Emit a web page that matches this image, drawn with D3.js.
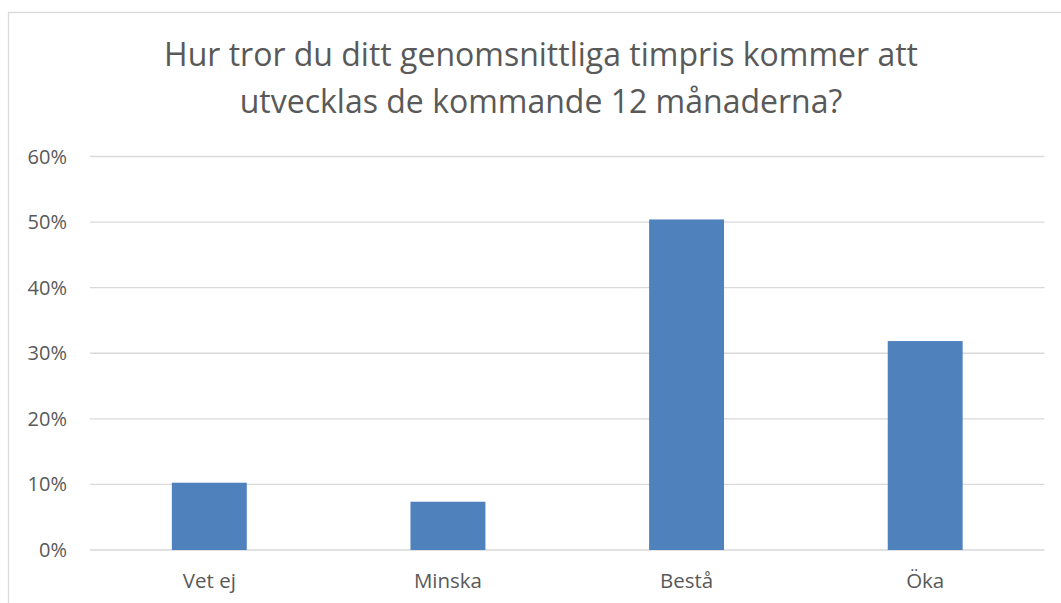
<!DOCTYPE html>
<html>
<head>
<meta charset="utf-8">
<script src="https://cdn.jsdelivr.net/npm/d3@7"></script>
<style>
  body { margin: 0; background: #fff; }
  svg text { font-family: "Open Sans", sans-serif; fill: #595959; }
</style>
</head>
<body>
<div id="chart"></div>
<script>
// data
var categories = ["Vet ej", "Minska", "Bestå", "Öka"];
var values = [0.1026, 0.0736, 0.504, 0.3186];
var yTicks = [0, 0.1, 0.2, 0.3, 0.4, 0.5, 0.6];
var titleLines = ["Hur tror du ditt genomsnittliga timpris kommer att", "utvecklas de kommande 12 månaderna?"];

var width = 1061, height = 603;
var plot = { left: 90, right: 1044.5, top: 156.5, bottom: 550 };

var svg = d3.select("#chart")
  .append("svg")
  .attr("width", width)
  .attr("height", height);

// chart area border (runs off the right and bottom edge)
svg.append("rect")
  .attr("x", 8.5)
  .attr("y", 12.5)
  .attr("width", width + 20)
  .attr("height", height + 20)
  .attr("fill", "none")
  .attr("stroke", "#d9d9d9")
  .attr("stroke-width", 1.3);

var x = d3.scaleBand()
  .domain(categories)
  .range([plot.left, plot.right])
  .paddingInner(0.686)
  .paddingOuter(0.343);

var y = d3.scaleLinear()
  .domain([0, 0.6])
  .range([plot.bottom, plot.top]);

// gridlines
svg.append("g")
  .selectAll("line")
  .data(yTicks)
  .join("line")
  .attr("x1", plot.left)
  .attr("x2", plot.right)
  .attr("y1", (d) => y(d))
  .attr("y2", (d) => y(d))
  .attr("stroke", "#d9d9d9")
  .attr("stroke-width", 1.3);

// y labels
svg.append("g")
  .selectAll("text")
  .data(yTicks)
  .join("text")
  .attr("x", 67)
  .attr("y", (d) => y(d))
  .attr("dy", "0.35em")
  .attr("text-anchor", "end")
  .style("font-size", "20px")
  .text((d) => d3.format(".0%")(d));

// bars
svg.append("g")
  .selectAll("rect")
  .data(values)
  .join("rect")
  .attr("x", (d, i) => x(categories[i]))
  .attr("y", (d) => y(d))
  .attr("width", x.bandwidth())
  .attr("height", (d) => y(0) - y(d))
  .attr("fill", "#4f81bd");

// category labels
svg.append("g")
  .selectAll("text")
  .data(categories)
  .join("text")
  .attr("x", (d) => x(d) + x.bandwidth() / 2)
  .attr("y", 588)
  .attr("text-anchor", "middle")
  .style("font-size", "20.5px")
  .text((d) => d);

// title
svg.append("g")
  .selectAll("text")
  .data(titleLines)
  .join("text")
  .attr("x", 541)
  .attr("y", (d, i) => 66 + i * 46.5)
  .attr("text-anchor", "middle")
  .style("font-size", "32px")
  .text((d) => d);
</script>
</body>
</html>
